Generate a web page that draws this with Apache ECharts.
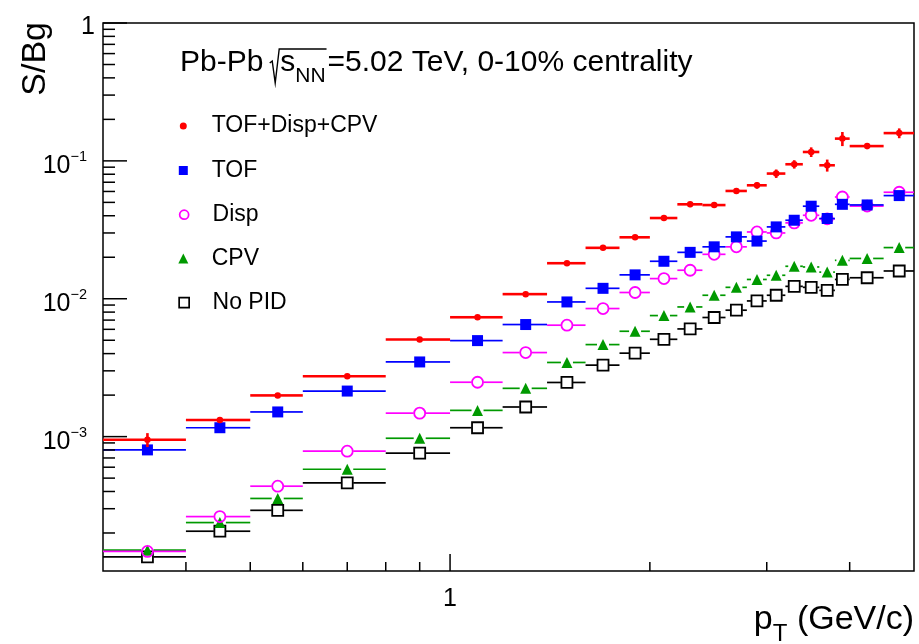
<!DOCTYPE html>
<html><head><meta charset="utf-8">
<script src="https://cdn.jsdelivr.net/npm/echarts@6/dist/echarts.min.js"></script>
<style>html,body{margin:0;padding:0;background:#fff}#c{width:919px;height:644px}</style>
</head><body><div id="c"></div>
<script>
// ---------------- data ----------------
const ptCenter = [0.35,0.45,0.55,0.7,0.9,1.1,1.3,1.5,1.7,1.9,2.1,2.3,2.5,2.7,2.9,3.1,3.3,3.5,3.7,3.9,4.25,4.75];
const binLow   = [0.3,0.4,0.5,0.6,0.8,1.0,1.2,1.4,1.6,1.8,2.0,2.2,2.4,2.6,2.8,3.0,3.2,3.4,3.6,3.8,4.0,4.5];
const binHigh  = [0.4,0.5,0.6,0.8,1.0,1.2,1.4,1.6,1.8,2.0,2.2,2.4,2.6,2.8,3.0,3.2,3.4,3.6,3.8,4.0,4.5,5.0];

const sbTofDispCpv = [9.5e-4,1.32e-3,1.99e-3,2.74e-3,5.06e-3,7.34e-3,1.08e-2,1.81e-2,2.34e-2,2.79e-2,3.85e-2,4.84e-2,4.78e-2,6.05e-2,6.65e-2,8.09e-2,9.45e-2,0.116,9.29e-2,0.145,0.128,0.159];
const errTofDispCpv = [1.1e-4,6.6e-5,6e-5,8e-5,1.5e-4,2.2e-4,3.2e-4,5.4e-4,8e-4,1.0e-3,1.5e-3,2.2e-3,2.2e-3,3.0e-3,3.7e-3,5.7e-3,6.6e-3,9.3e-3,9.3e-3,1.7e-2,6.4e-3,1.3e-2];
const sbTof    = [8.01e-4,1.16e-3,1.51e-3,2.14e-3,3.48e-3,4.97e-3,6.5e-3,9.48e-3,1.19e-2,1.49e-2,1.87e-2,2.17e-2,2.38e-2,2.81e-2,2.62e-2,3.32e-2,3.71e-2,4.69e-2,3.82e-2,4.84e-2,4.79e-2,5.6e-2];
const sbDisp   = [1.47e-4,2.63e-4,4.37e-4,7.84e-4,1.48e-3,2.48e-3,4.07e-3,6.43e-3,8.49e-3,1.11e-2,1.40e-2,1.61e-2,2.10e-2,2.38e-2,3.05e-2,3.0e-2,3.55e-2,4.03e-2,3.8e-2,5.47e-2,4.7e-2,5.92e-2];
const sbCpv    = [1.5e-4,2.38e-4,3.56e-4,5.8e-4,9.73e-4,1.55e-3,2.24e-3,3.45e-3,4.65e-3,5.81e-3,7.55e-3,8.72e-3,1.06e-2,1.21e-2,1.38e-2,1.48e-2,1.72e-2,1.70e-2,1.56e-2,1.90e-2,1.96e-2,2.35e-2];
const sbNoPid  = [1.34e-4,2.06e-4,2.92e-4,4.62e-4,7.59e-4,1.16e-3,1.64e-3,2.47e-3,3.30e-3,4.03e-3,5.08e-3,6.04e-3,7.31e-3,8.26e-3,9.64e-3,1.06e-2,1.23e-2,1.21e-2,1.15e-2,1.38e-2,1.42e-2,1.59e-2];

const seriesNames = ['TOF+Disp+CPV','TOF','Disp','CPV','No PID'];

const xRange = [0.3, 5];
const yRange = [1.06e-4, 1];
const xMajorTicks = [1];
const xMinorTicks = [0.4,0.5,0.6,0.7,0.8,0.9,2,3,4];
const yMajorTicks = [1e-3,1e-2,1e-1,1];
const yMinorTicks = [2e-4,3e-4,4e-4,5e-4,6e-4,7e-4,8e-4,9e-4,
                     2e-3,3e-3,4e-3,5e-3,6e-3,7e-3,8e-3,9e-3,
                     2e-2,3e-2,4e-2,5e-2,6e-2,7e-2,8e-2,9e-2,
                     0.2,0.3,0.4,0.5,0.6,0.7,0.8,0.9];
const xTickLabels = ['1'];
const yLabelBase = ['10','10','10','1'];
const yLabelExp  = ['\u22123','\u22122','\u22121',''];

// ---------------- helpers ----------------
const FONT = '"Liberation Sans", Arial, Helvetica, sans-serif';
const mctx = document.createElement('canvas').getContext('2d');
function tw(text, size) { mctx.font = size + 'px ' + FONT; return mctx.measureText(text).width; }
function bOff(size) {
  mctx.font = size + 'px ' + FONT; mctx.textBaseline = 'middle';
  const m = mctx.measureText('H'); mctx.textBaseline = 'alphabetic';
  return m.actualBoundingBoxDescent;
}
function txt(text, x, baseline, size, align, extra) {
  return Object.assign({
    type: 'text', x: x, y: baseline - bOff(size), silent: true,
    style: { text: text, fontSize: size, fontFamily: FONT, fill: '#000', align: align || 'left', verticalAlign: 'middle' }
  }, extra || {});
}

function rows(vals, err) {
  return ptCenter.map((x, i) => [x, vals[i], binLow[i], binHigh[i], err ? err[i] : 0]);
}
function errRender(gap, color, lw) {
  return function (params, api) {
    const xc = api.value(0), y = api.value(1), lo = api.value(2), hi = api.value(3), e = api.value(4);
    const pc = api.coord([xc, y]), pl = api.coord([lo, y]), ph = api.coord([hi, y]);
    const st = { stroke: color, lineWidth: lw };
    const ch = [];
    ch.push({ type: 'line', shape: { x1: pl[0], y1: pc[1], x2: pc[0] - gap, y2: pc[1] }, style: st });
    ch.push({ type: 'line', shape: { x1: pc[0] + gap, y1: pc[1], x2: ph[0], y2: pc[1] }, style: st });
    if (e > 0) {
      const pt = api.coord([xc, y + e]), pb = api.coord([xc, y - e]);
      if (pt[1] < pc[1] - gap) ch.push({ type: 'line', shape: { x1: pc[0], y1: pc[1] - gap, x2: pc[0], y2: pt[1] }, style: st });
      if (pb[1] > pc[1] + gap) ch.push({ type: 'line', shape: { x1: pc[0], y1: pc[1] + gap, x2: pc[0], y2: pb[1] }, style: st });
    }
    return { type: 'group', children: ch };
  };
}

const defs = [
  { name: 'No PID', vals: sbNoPid, err: null, color: '#000000', symbol: 'rect', size: 11, open: true, gap: 6, lw: 1.7, leg: 10 },
  { name: 'CPV', vals: sbCpv, err: null, color: '#009900', symbol: 'triangle', size: 11, open: false, gap: 6, lw: 1.7, leg: 10 },
  { name: 'Disp', vals: sbDisp, err: null, color: '#ff00ff', symbol: 'circle', size: 11, open: true, gap: 6, lw: 1.7, leg: 9 },
  { name: 'TOF', vals: sbTof, err: null, color: '#0000ff', symbol: 'rect', size: 11, open: false, gap: 0, lw: 1.7, leg: 9 },
  { name: 'TOF+Disp+CPV', vals: sbTofDispCpv, err: errTofDispCpv, color: '#ff0000', symbol: 'circle', size: 6.5, open: false, gap: 2.5, lw: 2.6, leg: 7 }
];
const legendCenterY = { 'TOF+Disp+CPV': 126, 'TOF': 170.5, 'Disp': 214.7, 'CPV': 258.5, 'No PID': 302.7 };

const series = [];
defs.forEach((d, k) => {
  series.push({
    name: 'err ' + d.name, type: 'custom', coordinateSystem: 'cartesian2d', z: 2 + 2 * k, silent: true,
    encode: { x: 0, y: 1 }, data: rows(d.vals, d.err), renderItem: errRender(d.gap, d.color, d.lw), clip: false
  });
  series.push({
    name: d.name, type: 'scatter', z: 3 + 2 * k, silent: true, symbol: d.symbol, symbolSize: d.size,
    itemStyle: d.open ? { color: 'rgba(255,255,255,0)', borderColor: d.color, borderWidth: 1.8, opacity: 1 } : { color: d.color, borderWidth: 0, opacity: 1 },
    data: ptCenter.map((x, i) => [x, d.vals[i]])
  });
});

// axis ticks (drawn through the axis scales)
function tickRender(axis, len) {
  return function (params, api) {
    const p = api.coord([api.value(0), api.value(1)]);
    const shape = axis === 'x' ? { x1: p[0], y1: p[1], x2: p[0], y2: p[1] - len } : { x1: p[0], y1: p[1], x2: p[0] + len, y2: p[1] };
    return { type: 'line', shape: shape, style: { stroke: '#000', lineWidth: 1.5 } };
  };
}
series.push({ type: 'custom', name: 'xmaj', silent: true, z: 20, clip: false, encode: { x: 0, y: 1 }, data: xMajorTicks.map(v => [v, yRange[0]]), renderItem: tickRender('x', 17) });
series.push({ type: 'custom', name: 'xmin', silent: true, z: 20, clip: false, encode: { x: 0, y: 1 }, data: xMinorTicks.map(v => [v, yRange[0]]), renderItem: tickRender('x', 9) });
series.push({ type: 'custom', name: 'ymaj', silent: true, z: 20, clip: false, encode: { x: 0, y: 1 }, data: yMajorTicks.map(v => [xRange[0], v]), renderItem: tickRender('y', 24) });
series.push({ type: 'custom', name: 'ymin', silent: true, z: 20, clip: false, encode: { x: 0, y: 1 }, data: yMinorTicks.map(v => [xRange[0], v]), renderItem: tickRender('y', 12) });

// tick labels
series.push({
  type: 'custom', name: 'xlab', silent: true, z: 20, clip: false, encode: { x: 0, y: 1 },
  data: xMajorTicks.map((v, i) => [v, yRange[0], i]),
  renderItem: function (params, api) {
    const p = api.coord([api.value(0), api.value(1)]);
    return txt(xTickLabels[api.value(2)], p[0], p[1] + 35, 25, 'center');
  }
});
series.push({
  type: 'custom', name: 'ylab', silent: true, z: 20, clip: false, encode: { x: 0, y: 1 },
  data: yMajorTicks.map((v, i) => [xRange[0], v, i]),
  renderItem: function (params, api) {
    const p = api.coord([api.value(0), api.value(1)]);
    const i = api.value(2);
    const base = yLabelBase[i], ex = yLabelExp[i];
    if (!ex) {
      return txt(base, p[0] - 8, p[1] + 11, 25, 'right');
    }
    const right = p[0] - 16;
    const we = tw(ex, 14.5);
    return { type: 'group', children: [
      txt(base, right - we, p[1] + 12, 25, 'right'),
      txt(ex, right - we, p[1] + 0.5, 14.5, 'left')
    ]};
  }
});

// ---------------- graphic texts ----------------
const graphics = [];
(function title() {
  const b = 71, S = 30, SUB = 21;
  let x = 180;
  graphics.push(txt('Pb-Pb ', x, b, S, 'left')); x += tw('Pb-Pb ', S);
  const rx = x - 2;
  const sx = rx + 10.5;
  graphics.push(txt('s', sx, b, S, 'left'));
  const nx = sx + tw('s', S);
  graphics.push(txt('NN', nx, b + 10.5, SUB, 'left'));
  const ex = nx + tw('NN', SUB) + 1;
  graphics.push({ type: 'polyline', silent: true, shape: { points: [[rx, b - 8], [rx + 2.5, b - 10], [rx + 5.5, b + 12], [rx + 9.5, b - 22], [ex, b - 22]] },
    style: { stroke: '#000', lineWidth: 1.4, fill: null } });
  graphics.push(txt('=5.02 TeV, 0-10% centrality', ex + 1, b, S, 'left'));
})();
// y axis title (rotated)
graphics.push(Object.assign(txt('S/Bg', 0, 0, 34, 'right'), { x: 45 - bOff(34), y: 22, rotation: Math.PI / 2 }));
// x axis title
(function xt() {
  const b = 629, S = 34, SUB = 24;
  const w1 = tw(' (GeV/c)', S), wT = tw('T', SUB), wp = tw('p', S);
  const right = 914;
  graphics.push(txt(' (GeV/c)', right - w1, b, S, 'left'));
  graphics.push(txt('T', right - w1 - wT, b + 12, SUB, 'left'));
  graphics.push(txt('p', right - w1 - wT - wp, b, S, 'left'));
})();

// ---------------- legends ----------------
const legends = defs.slice().reverse().map(d => {
  const w = d.leg;
  const cy = legendCenterY[d.name];
  return {
    data: [d.name], left: 183.3 - w / 2, top: cy - 12, padding: 0, itemWidth: w, itemHeight: w, selectedMode: false,
    itemStyle: d.open ? { color: 'rgba(255,255,255,0)', borderColor: d.color, borderWidth: 1.7, opacity: 1 } : { color: d.color, borderWidth: 0, opacity: 1 },
    textStyle: { fontFamily: FONT, fontSize: 23, color: '#000', lineHeight: 24, padding: [0, 0, 0, 211.7 - (183.3 - w / 2 + w + 5)] }
  };
});

const chart = echarts.init(document.getElementById('c'), null, { renderer: 'canvas' });
chart.setOption({
  animation: false,
  backgroundColor: '#fff',
  grid: { left: 103, top: 23, right: 5, bottom: 73, show: true, borderColor: '#000', borderWidth: 1.5, backgroundColor: 'rgba(0,0,0,0)', containLabel: false, outerBoundsMode: 'none' },
  xAxis: { type: 'log', logBase: 10, min: xRange[0], max: xRange[1], axisLine: { show: false }, axisTick: { show: false }, axisLabel: { show: false }, splitLine: { show: false }, minorTick: { show: false } },
  yAxis: { type: 'log', logBase: 10, min: yRange[0], max: yRange[1], axisLine: { show: false }, axisTick: { show: false }, axisLabel: { show: false }, splitLine: { show: false }, minorTick: { show: false } },
  legend: legends,
  tooltip: { show: false },
  graphic: { elements: graphics },
  series: series
});
</script>
</body></html>
